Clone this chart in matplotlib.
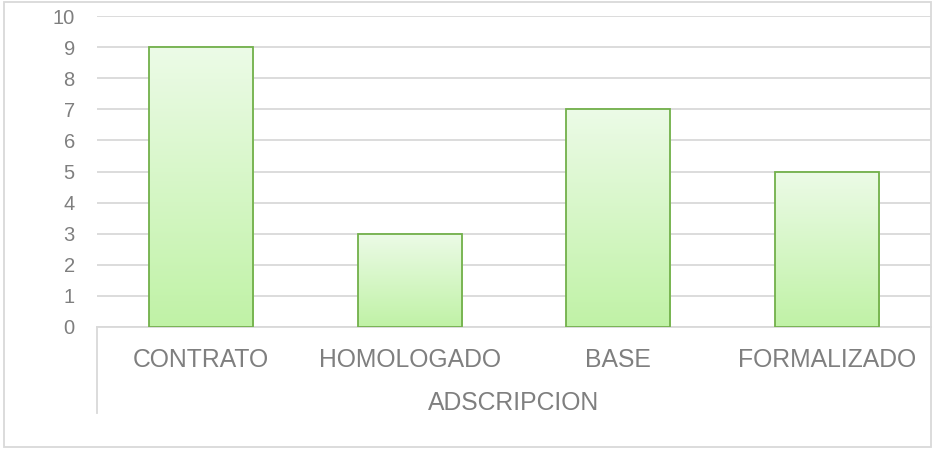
import numpy as np
import matplotlib
matplotlib.use('agg')
import matplotlib.pyplot as plt
from matplotlib.colors import LinearSegmentedColormap
from matplotlib.lines import Line2D
from matplotlib.patches import Rectangle

categories = ["CONTRATO", "HOMOLOGADO", "BASE", "FORMALIZADO"]
values = [9, 3, 7, 5]
axis_title = "ADSCRIPCION"

plt.rcParams['font.family'] = ['Liberation Sans', 'DejaVu Sans']

W, H = 932, 449
fig = plt.figure(figsize=(W / 100, H / 100), dpi=100)
ax = fig.add_axes([97 / W, 1 - 327 / H, (931 - 97) / W, (327 - 16) / H])

x = np.arange(len(categories))
bars = ax.bar(x, values, width=0.5, facecolor='none', edgecolor='#72b04a', linewidth=1.3, zorder=3)

# vertical gradient fill, light at top, stronger green at bottom
cmap = LinearSegmentedColormap.from_list('g', ['#c0f2a6', '#ecfbe7'])
grad = np.linspace(0, 1, 256).reshape(-1, 1)
for b in bars:
    bx, by = b.get_x(), b.get_y()
    bw, bh = b.get_width(), b.get_height()
    im = ax.imshow(grad, cmap=cmap, origin='lower', aspect='auto',
                   extent=(bx, bx + bw, by, by + bh), zorder=2)
    im.set_clip_path(b)

ax.set_xlim(-0.5, len(categories) - 0.5)
ax.set_ylim(0, 10)
ax.set_yticks(range(0, 11))
ax.yaxis.grid(True, color='#d9d9d9', linewidth=1.3, zorder=0)
ax.set_axisbelow(True)
for s in ['top', 'right', 'left']:
    ax.spines[s].set_visible(False)
ax.spines['bottom'].set_color('#d9d9d9')
ax.spines['bottom'].set_linewidth(1.3)
ax.tick_params(axis='y', length=0, pad=16, labelsize=14.5, labelcolor='#7f7f7f')
ax.tick_params(axis='x', length=0, pad=15, labelsize=17.8, labelcolor='#7f7f7f')
ax.set_xticks(x)
ax.set_xticklabels(categories)
ax.set_xlabel(axis_title, fontsize=17.8, color='#7f7f7f', labelpad=14)

# category axis side line and chart border
fig.add_artist(Line2D([97 / W, 97 / W], [1 - 327 / H, 1 - 413 / H], color='#d9d9d9', linewidth=1.3))
fig.add_artist(Rectangle((4 / W, 2 / H), (931 - 4) / W, (447 - 2) / H, fill=False,
                         edgecolor='#d9d9d9', linewidth=1.3))

plt.savefig('out.png', dpi=100, facecolor='white')
